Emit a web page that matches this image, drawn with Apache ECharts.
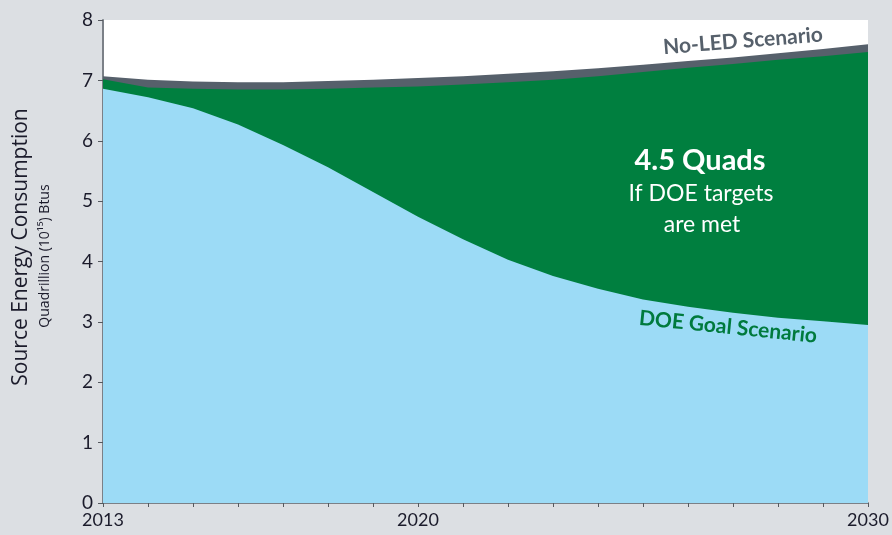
<!DOCTYPE html>
<html>
<head>
<meta charset="utf-8">
<script src="https://cdn.jsdelivr.net/npm/echarts@6/dist/echarts.min.js"></script>
<style>
  html, body { margin: 0; padding: 0; background: #dcdfe3; }
  #chart { width: 892px; height: 535px; }
</style>
</head>
<body>
<div id="chart"></div>
<script>
// years on the x axis
var years = [2013, 2014, 2015, 2016, 2017, 2018, 2019, 2020, 2021, 2022, 2023, 2024, 2025, 2026, 2027, 2028, 2029, 2030];
var xLabels = [2013, 2020, 2030];
// quads
var noLed = [7.07, 7.01, 6.98, 6.97, 6.97, 6.99, 7.01, 7.04, 7.07, 7.11, 7.15, 7.20, 7.26, 7.32, 7.38, 7.45, 7.52, 7.60];
var current = [7.02, 6.88, 6.86, 6.85, 6.85, 6.86, 6.88, 6.90, 6.93, 6.97, 7.01, 7.07, 7.14, 7.21, 7.27, 7.34, 7.40, 7.47];
var doeGoal = [6.86, 6.72, 6.54, 6.27, 5.93, 5.56, 5.15, 4.74, 4.37, 4.03, 3.76, 3.55, 3.37, 3.25, 3.15, 3.07, 3.01, 2.95];

var axisColor = '#7b8087';
var textColor = '#1b1b2b';
var font = 'Lato';

function pairs(vals) {
    return years.map(function (y, i) { return [y, vals[i]]; });
}

function area(name, vals, color) {
    return {
        name: name,
        type: 'line',
        data: pairs(vals),
        symbol: 'none',
        lineStyle: { width: 0 },
        areaStyle: { color: color, opacity: 1, origin: 'start' },
        silent: true
    };
}

function label(x, y, rot, text, fill, f) {
    return {
        type: 'text', x: x, y: y, rotation: rot, z: 100,
        style: { text: text, fill: fill, font: f, textAlign: 'center', textVerticalAlign: 'middle' }
    };
}

var option = {
    backgroundColor: '#dcdfe3',
    animation: false,
    grid: {
        left: 103, right: 24, top: 20, bottom: 32,
        show: true, backgroundColor: '#ffffff', borderWidth: 0
    },
    xAxis: {
        type: 'value',
        min: 2013, max: 2030, interval: 1,
        splitLine: { show: false },
        axisLine: { lineStyle: { color: axisColor, width: 2 } },
        axisTick: { show: true, length: 4, lineStyle: { color: '#55595f', width: 1 } },
        axisLabel: {
            color: textColor, fontFamily: font, fontSize: 18, margin: 8,
            showMinLabel: true, showMaxLabel: true,
            formatter: function (v) { return xLabels.indexOf(v) >= 0 ? String(v) : ''; }
        }
    },
    yAxis: {
        type: 'value',
        min: 0, max: 8, interval: 1,
        splitLine: { show: false },
        axisLine: { show: true, lineStyle: { color: axisColor, width: 2 } },
        axisTick: { show: true, length: 5, lineStyle: { color: '#55595f', width: 1 } },
        axisLabel: { color: textColor, fontFamily: font, fontSize: 19, margin: 10 }
    },
    series: [
        area('No-LED Scenario', noLed, '#56606b'),
        area('Current Path', current, '#007f3f'),
        area('DOE Goal Scenario', doeGoal, '#9cdbf6')
    ],
    graphic: [
        label(21, 247, Math.PI / 2, 'Source Energy Consumption', textColor, '21px "Open Sans"'),
        label(45, 256, Math.PI / 2, 'Quadrillion (10¹⁵) Btus', textColor, '14px "Open Sans"'),
        label(743, 41, 0.08, 'No-LED Scenario', '#56606b', 'bold 21px Lato'),
        label(728, 327, -0.1, 'DOE Goal Scenario', '#007a3d', 'bold 21px Lato'),
        label(700, 161, 0, '4.5 Quads', '#ffffff', 'bold 29px Lato'),
        label(701, 194, 0, 'If DOE targets', '#ffffff', '23px Lato'),
        label(702, 225, 0, 'are met', '#ffffff', '23px Lato')
    ]
};

var myChart = echarts.init(document.getElementById('chart'));
myChart.setOption(option);
</script>
</body>
</html>
